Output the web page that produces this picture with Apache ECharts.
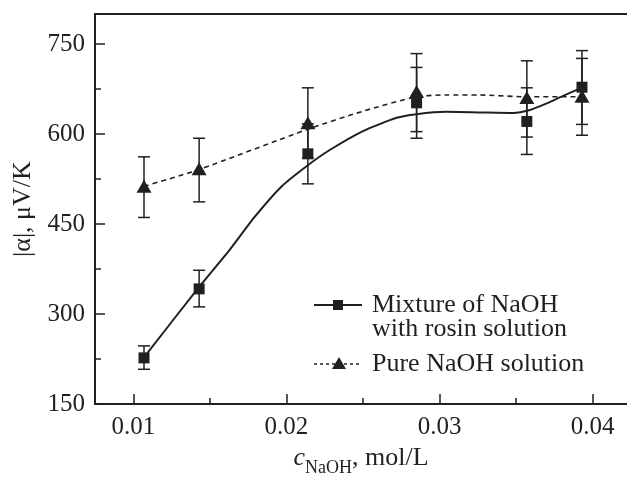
<!DOCTYPE html>
<html>
<head>
<meta charset="utf-8">
<script src="https://cdn.jsdelivr.net/npm/echarts@6/dist/echarts.min.js"></script>
<style>html,body{margin:0;padding:0;background:#fff;}#chart{width:627px;height:482px;}</style>
</head>
<body>
<div id="chart"></div>
<script>
// concentration of NaOH, mol/L
const conc = [0.0107, 0.0143, 0.0214, 0.0285, 0.0357, 0.0393];
// Mixture of NaOH with rosin solution
const mixVal = [227, 342, 567, 652, 621, 678];
const mixLo  = [208, 312, 517, 593, 566, 616];
const mixHi  = [247, 373, 617, 711, 677, 739];
// Pure NaOH solution
const pureVal = [513, 542, 619, 671, 661, 663];
const pureLo  = [461, 487, 560, 604, 595, 598];
const pureHi  = [562, 593, 677, 734, 722, 726];
// fitted curves
const mixFitX = [0.0107, 0.0142, 0.0162, 0.0179, 0.0197, 0.0214, 0.0228, 0.0250, 0.0272, 0.0285, 0.0304, 0.0326, 0.0348, 0.0359, 0.0370, 0.0381, 0.0392];
const mixFitY = [228, 342, 404, 461, 513, 548, 573, 605, 627, 633, 637, 636, 635, 640, 651, 664, 676];
const pureFitX = [0.0107, 0.0142, 0.0214, 0.0250, 0.0285, 0.0304, 0.0326, 0.0357, 0.0390];
const pureFitY = [513, 540, 608, 638, 662, 665, 665, 662, 662];
// ticks
const xMajorTicks = [0.01, 0.02, 0.03, 0.04];
const xMinorTicks = [0.015, 0.025, 0.035];
const yTickLabels = [150, 300, 450, 600, 750];

const INK = '#231f20';
const FONT = '"Liberation Serif", "Times New Roman", serif';

function zip(a, b) { return a.map((v, i) => [v, b[i]]); }
function errData(lo, hi) { return conc.map((c, i) => [c, lo[i], hi[i]]); }

function errRender(params, api) {
  const x = api.value(0);
  const lo = api.coord([x, api.value(1)]);
  const hi = api.coord([x, api.value(2)]);
  const w = 6;
  const st = { stroke: INK, lineWidth: 1.5 };
  return {
    type: 'group',
    children: [
      { type: 'line', shape: { x1: lo[0], y1: lo[1], x2: hi[0], y2: hi[1] }, style: st },
      { type: 'line', shape: { x1: lo[0] - w, y1: lo[1], x2: lo[0] + w, y2: lo[1] }, style: st },
      { type: 'line', shape: { x1: hi[0] - w, y1: hi[1], x2: hi[0] + w, y2: hi[1] }, style: st }
    ]
  };
}

const chart = echarts.init(document.getElementById('chart'), null, { renderer: 'canvas' });
const xMin = 0.0075, xMax = 0.04224;

chart.setOption({
  animation: false,
  backgroundColor: '#fff',
  grid: { left: 95, right: 0, top: 14, bottom: 69 },
  xAxis: [
    {
      type: 'value', min: xMin, max: xMax, position: 'bottom',
      axisLine: { lineStyle: { color: INK, width: 2 } },
      axisTick: { inside: true, length: 10, customValues: xMajorTicks, lineStyle: { color: INK, width: 1.5 } },
      axisLabel: { customValues: xMajorTicks, margin: 11, color: INK, fontFamily: FONT, fontSize: 25, formatter: v => v.toFixed(2) },
      splitLine: { show: false },
      name: '{i|c}{s|NaOH}{n|, mol/L}',
      nameLocation: 'middle', nameGap: 40,
      nameTextStyle: {
        rich: {
          i: { fontFamily: FONT, fontSize: 26, fontStyle: 'italic', color: INK, lineHeight: 26, padding: [0, 0, 6, 0], verticalAlign: 'bottom' },
          s: { fontFamily: FONT, fontSize: 18, color: INK, lineHeight: 18, verticalAlign: 'bottom' },
          n: { fontFamily: FONT, fontSize: 26, color: INK, lineHeight: 26, padding: [0, 0, 6, 0], verticalAlign: 'bottom' }
        }
      }
    },
    {
      type: 'value', min: xMin, max: xMax, position: 'bottom',
      axisLine: { show: false },
      axisTick: { inside: true, length: 6, customValues: xMinorTicks, lineStyle: { color: INK, width: 1.5 } },
      axisLabel: { show: false },
      splitLine: { show: false }
    },
    {
      type: 'value', min: xMin, max: xMax, position: 'top',
      axisLine: { lineStyle: { color: INK, width: 2 } },
      axisTick: { show: false }, axisLabel: { show: false }, splitLine: { show: false }
    }
  ],
  yAxis: {
    type: 'value', min: 150, max: 800, interval: 150,
    axisLine: { show: true, lineStyle: { color: INK, width: 2 } },
    axisTick: { show: true, inside: true, length: 10, lineStyle: { color: INK, width: 1.5 } },
    minorTick: { show: true, splitNumber: 2, length: 6, lineStyle: { color: INK, width: 1.5 } },
    axisLabel: { margin: 10, color: INK, fontFamily: FONT, fontSize: 25, customValues: yTickLabels },
    splitLine: { show: false },
    minorSplitLine: { show: false },
    name: '|α|, μV/K', nameLocation: 'middle', nameGap: 58,
    nameTextStyle: { fontFamily: FONT, fontSize: 26, color: INK }
  },
  series: [
    { type: 'line', name: 'mixfit', data: zip(mixFitX, mixFitY), smooth: 0.2, showSymbol: false, symbol: 'none',
      lineStyle: { color: INK, width: 2 }, z: 2 },
    { type: 'line', name: 'purefit', data: zip(pureFitX, pureFitY), smooth: 0.25, showSymbol: false, symbol: 'none',
      lineStyle: { color: INK, width: 1.6, type: [5, 4] }, z: 2 },
    { type: 'custom', name: 'mixErr', data: errData(mixLo, mixHi), renderItem: errRender, z: 3 },
    { type: 'custom', name: 'pureErr', data: errData(pureLo, pureHi), renderItem: errRender, z: 3 },
    { type: 'scatter', name: 'Mixture of NaOH with rosin solution', data: zip(conc, mixVal), symbol: 'rect', symbolSize: 11,
      itemStyle: { color: INK, opacity: 1 }, z: 4 },
    { type: 'scatter', name: 'Pure NaOH solution', data: zip(conc, pureVal), symbol: 'triangle', symbolSize: [15, 13],
      itemStyle: { color: INK, opacity: 1 }, z: 4 }
  ],
  graphic: [
    { type: 'line', shape: { x1: 314, y1: 305, x2: 362, y2: 305 }, style: { stroke: INK, lineWidth: 2 } },
    { type: 'rect', shape: { x: 333, y: 300, width: 10, height: 10 }, style: { fill: INK } },
    { type: 'text', style: { text: 'Mixture of NaOH', x: 372, y: 305, verticalAlign: 'middle', fontFamily: FONT, fontSize: 26, fill: INK } },
    { type: 'text', style: { text: 'with rosin solution', x: 372, y: 329, verticalAlign: 'middle', fontFamily: FONT, fontSize: 26, fill: INK } },
    { type: 'line', shape: { x1: 314, y1: 364, x2: 362, y2: 364 }, style: { stroke: INK, lineWidth: 1.5, lineDash: [3, 3] } },
    { type: 'polygon', shape: { points: [[339, 357], [346, 369], [332, 369]] }, style: { fill: INK } },
    { type: 'text', style: { text: 'Pure NaOH solution', x: 372, y: 364, verticalAlign: 'middle', fontFamily: FONT, fontSize: 26, fill: INK } }
  ]
});
</script>
</body>
</html>
